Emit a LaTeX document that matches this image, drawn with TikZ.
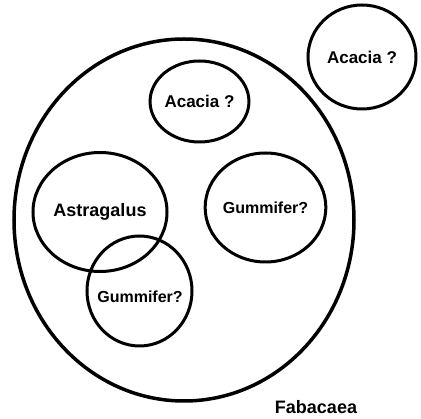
\documentclass[tikz,border=0pt]{standalone}
\usepackage{fontspec}
\setmainfont{Liberation Sans}
\usetikzlibrary{shapes.geometric}

\begin{document}
\begin{tikzpicture}
	[x=1pt, y=-1pt,
	 set node/.style={ellipse, draw, line width=3pt, inner sep=0pt, font=\bfseries\fontsize{16}{18}\selectfont},
	 name node/.style={font=\bfseries\fontsize{18}{20}\selectfont}]
	\useasboundingbox (0,0) rectangle (421,419);
	% family and the groups inside it
	\node[set node, line width=3.5pt, minimum width=340pt, minimum height=362pt] (fab) at (184,220) {};
	\node[set node, font=\bfseries\fontsize{17}{19}\selectfont, minimum width=93pt, minimum height=81pt] (acin) at (199.5,101.5) {Acacia ?};
	\node[set node, font=\bfseries\fontsize{18}{20}\selectfont, minimum width=134pt, minimum height=119pt] (astra) at (100,212) {Astragalus};
	\node[set node, minimum width=105pt, minimum height=110pt] (gumlow) at (139.5,291) {};
	\node (gumlowtxt) at (140,297) [font=\bfseries\fontsize{16}{18}\selectfont] {Gummifer?};
	\node[set node, minimum width=111pt, minimum height=109pt] (gumright) at (265.5,207.5) {Gummifer?};
	% the one outside
	\node[set node, font=\bfseries\fontsize{17}{19}\selectfont, minimum width=108pt, minimum height=104pt] (acout) at (362,57) {Acacia ?};
	\node[name node] (fabname) at (316,407) {Fabacaea};
\end{tikzpicture}
\end{document}
